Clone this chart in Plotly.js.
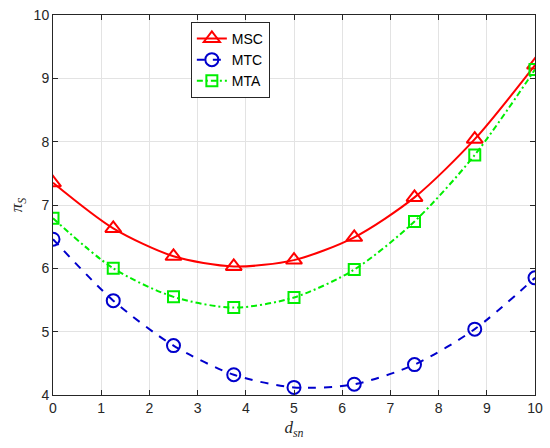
<!DOCTYPE html>
<html>
<head>
<meta charset="utf-8">
<script src="https://cdn.plot.ly/plotly-3.0.1.min.js"></script>
<style>html,body{margin:0;padding:0;background:#fff;}#chart{width:550px;height:448px;}</style>
</head>
<body>
<div id="chart"></div>
<script>
const dsn = [0, 1.25, 2.5, 3.75, 5, 6.25, 7.5, 8.75, 10];
const msc = [7.35, 6.63, 6.19, 6.03, 6.13, 6.49, 7.12, 8.04, 9.21];
const mtc = [6.46, 5.49, 4.78, 4.32, 4.12, 4.17, 4.48, 5.04, 5.85];
const mta = [6.79, 6.00, 5.55, 5.38, 5.54, 5.98, 6.74, 7.79, 9.14];
const seriesNames = ['MSC', 'MTC', 'MTA'];

const traces = [
  {x: dsn, y: msc, name: seriesNames[0], mode: 'lines+markers',
   line: {color: '#ff0000', width: 2, shape: 'spline', smoothing: 0.8},
   marker: {symbol: 'triangle-up-open', size: 14, color: '#ff0000', line: {width: 2, color: '#ff0000'}}},
  {x: dsn, y: mtc, name: seriesNames[1], mode: 'lines+markers',
   line: {color: '#0000cc', width: 2, dash: '8px,8px', shape: 'spline', smoothing: 0.8},
   marker: {symbol: 'circle-open', size: 13, color: '#0000cc', line: {width: 2, color: '#0000cc'}}},
  {x: dsn, y: mta, name: seriesNames[2], mode: 'lines+markers',
   line: {color: '#00ee00', width: 2, dash: '6px,3px,2px,3px', shape: 'spline', smoothing: 0.8},
   marker: {symbol: 'square-open', size: 11, color: '#00ee00', line: {width: 2, color: '#00ee00'}}}
];

const axisCommon = {
  showline: true, linecolor: '#262626', linewidth: 1, mirror: 'ticks',
  ticks: 'inside', ticklen: 5, tickcolor: '#262626', tickwidth: 1,
  showgrid: true, gridcolor: '#e3e3e3', gridwidth: 1, zeroline: false,
  tickfont: {family: 'Liberation Sans, Arial, sans-serif', size: 14, color: '#262626'}
};

const layout = {
  width: 550, height: 448,
  margin: {l: 53, r: 15, t: 15, b: 53},
  paper_bgcolor: '#ffffff', plot_bgcolor: '#ffffff',
  showlegend: true,
  legend: {
    x: 0.286, y: 0.982, xanchor: 'left', yanchor: 'top',
    bgcolor: '#ffffff', bordercolor: '#262626', borderwidth: 1,
    font: {family: 'Liberation Sans, Arial, sans-serif', size: 14, color: '#000000'},
    tracegroupgap: 0
  },
  xaxis: Object.assign({}, axisCommon, {
    range: [0, 10], dtick: 1, tick0: 0,
    title: {text: '<i>d</i><sub><i>sn</i></sub>', standoff: 6,
      font: {family: 'Liberation Serif, Times New Roman, serif', size: 17, color: '#262626'}}
  }),
  yaxis: Object.assign({}, axisCommon, {
    range: [4, 10], dtick: 1, tick0: 4,
    title: {text: '<i>π</i><sub><i>S</i></sub>', standoff: 6,
      font: {family: 'Liberation Serif, Times New Roman, serif', size: 17, color: '#262626'}}
  })
};

Plotly.newPlot('chart', traces, layout, {displayModeBar: false, staticPlot: true});
</script>
</body>
</html>
